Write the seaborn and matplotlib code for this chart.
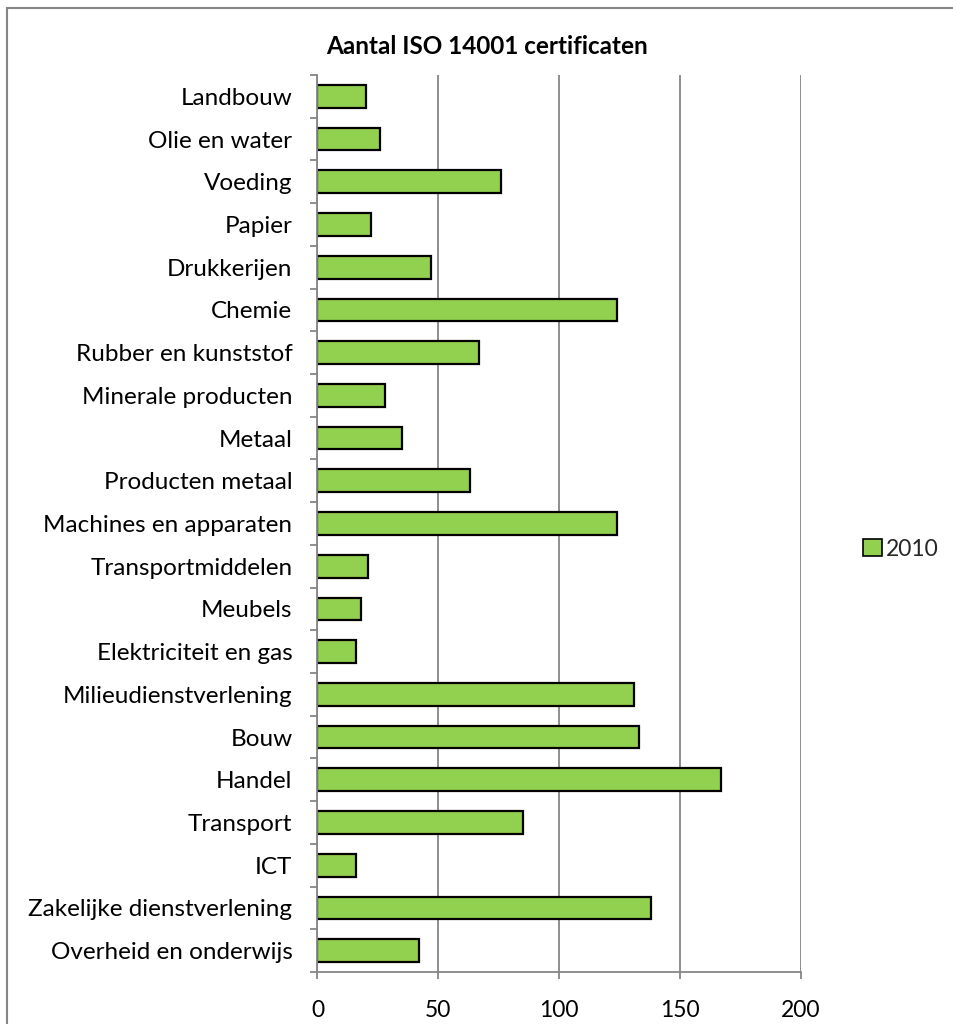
import matplotlib
matplotlib.use("Agg")
import matplotlib.pyplot as plt
import matplotlib.patches as mpatches
import seaborn as sns
import pandas as pd
import numpy as np

categories = [
    "Landbouw", "Olie en water", "Voeding", "Papier", "Drukkerijen", "Chemie",
    "Rubber en kunststof", "Minerale producten", "Metaal", "Producten metaal",
    "Machines en apparaten", "Transportmiddelen", "Meubels", "Elektriciteit en gas",
    "Milieudienstverlening", "Bouw", "Handel", "Transport", "ICT",
    "Zakelijke dienstverlening", "Overheid en onderwijs",
]
values_2010 = [20, 26, 76, 22, 47, 124, 67, 28, 35, 63, 124, 21, 18, 16,
               131, 133, 167, 85, 16, 138, 42]
x_ticks = [0, 50, 100, 150, 200]
series_name = "2010"
title = "Aantal ISO 14001 certificaten"

df = pd.DataFrame({"sector": categories, "count": values_2010})

sns.set_theme(style="white")
plt.rcParams['font.family'] = ['Lato', 'DejaVu Sans']

W, H = 954, 1024
fig = plt.figure(figsize=(W / 100, H / 100), dpi=100)
fig.patch.set_facecolor("white")

# figure border
fig.add_artist(mpatches.Rectangle((7.5 / W, -0.01), 1.0, 1 - 7.5 / H + 0.01,
                                  transform=fig.transFigure, fill=False,
                                  edgecolor="#868686", linewidth=1.5))

left, right, top, bottom = 317.5, 800.7, 75, 972
ax = fig.add_axes([left / W, 1 - bottom / H, (right - left) / W, (bottom - top) / H])

green = "#92D050"
grey = "#868686"
sns.barplot(data=df, y="sector", x="count", orient="h", color=green,
            edgecolor="black", linewidth=1.6, width=0.53, saturation=1, ax=ax)

ax.set_xlim(0, 200)
ax.set_ylim(len(categories) - 0.5, -0.5)
ax.set_xticks(x_ticks)
ax.set_xticklabels([str(t) for t in x_ticks], fontsize=16.5)
ax.set_xlabel("")
ax.set_ylabel("")
ax.xaxis.grid(True, color=grey, linewidth=1.3)
ax.set_axisbelow(True)

ax.tick_params(axis="y", which="major", length=0, pad=18, labelsize=17.5, labelcolor="black")
ax.set_yticks(np.arange(-0.5, len(categories) + 0.5, 1.0), minor=True)
ax.tick_params(axis="y", which="minor", length=5, width=1.3, color=grey, direction="out", left=True)
ax.tick_params(axis="x", which="major", length=5, width=1.3, color=grey, direction="out",
               bottom=True, pad=15, labelcolor="black")

for s in ["top", "right"]:
    ax.spines[s].set_visible(False)
for s in ["left", "bottom"]:
    ax.spines[s].set_visible(True)
    ax.spines[s].set_color(grey)
    ax.spines[s].set_linewidth(1.3)

fig.text(487 / W, 1 - 46 / H, title, ha="center", va="center",
         fontsize=17.5, fontweight="bold", color="black")

handle = mpatches.Patch(facecolor=green, edgecolor="black", linewidth=1.2, label=series_name)
fig.legend(handles=[handle], loc="center left", bbox_to_anchor=(852 / W, 1 - 549 / H),
           frameon=False, fontsize=16.5, handlelength=0.8, handleheight=0.8,
           handletextpad=0.2, borderpad=0)

fig.savefig("out.png", dpi=100)
